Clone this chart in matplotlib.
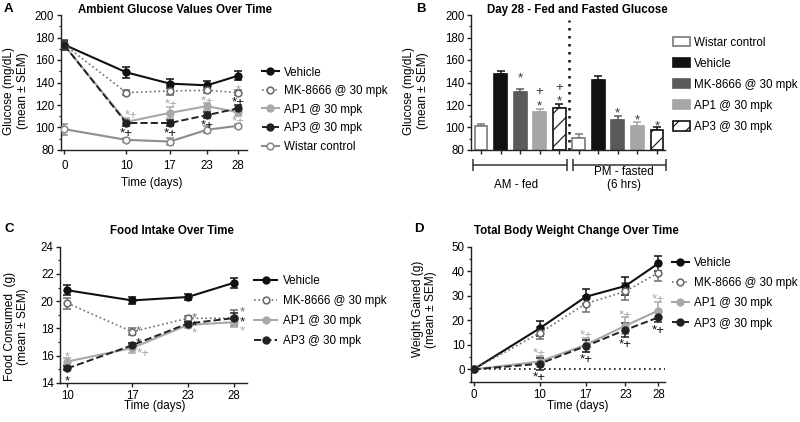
import numpy as np
import matplotlib
matplotlib.use('Agg')
import matplotlib.pyplot as plt
from matplotlib.ticker import MultipleLocator

plt.rcParams['font.family'] = ['Liberation Sans', 'DejaVu Sans']
plt.rcParams['hatch.linewidth'] = 0.8

# ---------------- data ----------------
groups = ['Vehicle', 'MK-8666 @ 30 mpk', 'AP1 @ 30 mpk', 'AP3 @ 30 mpk', 'Wistar control']

# A: ambient glucose
days_a = [0, 10, 17, 23, 28]
veh_a = [173.5, 149, 139, 137.5, 146]
veh_a_err = [4, 5, 4, 4, 4]
mk_a = [173.5, 131, 132.5, 133, 131]
mk_a_err = [4, 2.5, 4, 2, 2.5]
ap1_a = [173, 105, 113, 119, 113.5]
ap1_a_err = [4, 3, 5, 3, 3]
ap3_a = [173, 104, 104, 111, 117]
ap3_a_err = [4, 3, 3, 2.5, 3]
wis_a = [98.5, 89, 87.5, 98, 101.5]
wis_a_err = [5, 1.5, 3, 3, 2]

# B: day 28 fed / fasted glucose (order: Wistar, Vehicle, MK, AP1, AP3)
bar_labels = ['Wistar control', 'Vehicle', 'MK-8666 @ 30 mpk', 'AP1 @ 30 mpk', 'AP3 @ 30 mpk']
am_fed = [101.3, 147.3, 131.3, 113.8, 117.2]
am_fed_err = [1.8, 3.3, 2.7, 2.8, 3.4]
pm_fasted = [90.4, 142.2, 106.7, 101.2, 98.0]
pm_fasted_err = [3.9, 3.8, 3.3, 3.5, 2.6]

# C: food intake
days_c = [10, 17, 23, 28]
veh_c = [20.8, 20.05, 20.3, 21.35]
veh_c_err = [0.35, 0.25, 0.2, 0.35]
mk_c = [19.85, 17.75, 18.73, 18.75]
mk_c_err = [0.4, 0.25, 0.2, 0.6]
ap1_c = [15.55, 16.55, 18.25, 18.45]
ap1_c_err = [0.25, 0.35, 0.2, 0.35]
ap3_c = [15.05, 16.75, 18.35, 18.75]
ap3_c_err = [0.15, 0.2, 0.15, 0.35]

# D: body weight change
days_d = [0, 10, 17, 23, 28]
veh_d = [0, 16.7, 29.6, 34, 43.2]
veh_d_err = [0.3, 3, 3, 3.6, 3.2]
mk_d = [0, 14.8, 26.8, 31.8, 39.4]
mk_d_err = [0.3, 2.5, 3.3, 3.5, 3.5]
ap1_d = [0, 3.2, 10, 17.8, 24]
ap1_d_err = [0.3, 2.3, 3, 3.5, 3.3]
ap3_d = [0, 2.3, 9.5, 16.1, 21.2]
ap3_d_err = [0.3, 2.5, 2.5, 3, 2]

BLK = '#111111'
MKG = '#6e6e6e'
LGT = '#a8a8a8'
WIS = '#8c8c8c'

# significance marks: (x, y, text, color)
ann_a = [(10.7, 112.6, '*+', LGT), (10, 97.2, '*+', BLK), (17.3, 122.9, '*+', LGT),
         (17, 97.2, '*+', BLK), (23, 125, '*+', LGT), (23, 103.7, '*+', BLK),
         (28, 136.9, '*', LGT), (28, 124.4, '*+', BLK), (28, 107.3, '*+', LGT)]
ann_b = [(2, 147.6, '*'), (3, 133.3, '+'), (3, 123, '*'), (4, 136.9, '+'),
         (4, 126.8, '*'), (7, 116.1, '*'), (8, 110.2, '*'), (9, 105.2, '*')]
ann_c = [(10, 16.16, '*', LGT), (10, 14.44, '*', BLK), (17.65, 18.07, '*', MKG),
         (17.7, 17.19, '*', BLK), (18.15, 16.35, '*+', LGT), (23.7, 19.05, '*', MKG),
         (23.7, 18.46, '*', BLK), (23.7, 17.93, '*', LGT), (28.9, 19.47, '*', MKG),
         (28.9, 18.78, '*', BLK), (28.9, 18.07, '*', LGT)]
ann_d = [(10, 7.5, '*+', LGT), (17, 14.7, '*+', LGT), (23, 23.1, '*+', LGT), (28, 29.4, '*+', LGT),
         (10, -2.3, '*+', BLK), (17, 5.1, '*+', BLK), (23, 11.3, '*+', BLK), (28, 16.7, '*+', BLK)]

styles = {
    'Vehicle': dict(color=BLK, ls='-', lw=1.5, mfc=BLK),
    'MK-8666 @ 30 mpk': dict(color=MKG, ls=':', lw=1.2, mfc='white'),
    'AP1 @ 30 mpk': dict(color=LGT, ls='-', lw=1.5, mfc=LGT),
    'AP3 @ 30 mpk': dict(color='#222222', ls='--', lw=1.4, mfc='#222222'),
    'Wistar control': dict(color=WIS, ls='-', lw=1.5, mfc='white'),
}

W, H = 800, 422
fig = plt.figure(figsize=(8, 4.22), dpi=100)


def fx(px):
    return px / W


def fy(py):
    return 1 - py / H


def add_axes(left, right, top, bottom):
    return fig.add_axes([fx(left), fy(bottom), fx(right - left), (bottom - top) / H])


def style_axes(ax, xpad=4):
    for s in ['top', 'right']:
        ax.spines[s].set_visible(False)
    for s in ['left', 'bottom']:
        ax.spines[s].set_linewidth(1.0)
        ax.spines[s].set_color('#222222')
    ax.tick_params(which='major', direction='out', length=3, width=1, color='#222222',
                   labelsize=8.3, pad=1.5)
    ax.tick_params(axis='x', which='major', pad=xpad)
    ax.tick_params(which='minor', direction='out', length=1.8, width=0.9, color='#222222')


def draw_series(ax, x, y, err, name):
    st = styles[name]
    ax.errorbar(x, y, yerr=err, fmt='none', ecolor=st['color'], elinewidth=1.1,
                capsize=2.8, capthick=1.1, zorder=2)
    ax.plot(x, y, ls=st['ls'], lw=st['lw'], color=st['color'], marker='o', ms=4.8,
            mfc=st['mfc'], mec=st['color'], mew=1.2, label=name, zorder=3)


def mark(ax, x, y, txt, color):
    dy = {'*': -5.4, '+': -3.4, '*+': -4.3}[txt]
    ax.annotate(txt, (x, y), xytext=(0, dy), textcoords='offset points',
                ha='center', va='baseline', fontsize=9.6, color=color, zorder=5)


def line_legend(ax, left_px, top_px, hl, spacing):
    ax.legend(loc='upper left', bbox_to_anchor=(fx(left_px), fy(top_px)),
              bbox_transform=fig.transFigure, frameon=False, borderpad=0,
              borderaxespad=0, handlelength=hl, handletextpad=0.45,
              labelspacing=spacing, fontsize=8.4, numpoints=1)


# ---------------- A ----------------
axA = add_axes(60.5, 246.7, 15, 150)
style_axes(axA)
for name, y, e in zip(groups, [veh_a, mk_a, ap1_a, ap3_a, wis_a],
                      [veh_a_err, mk_a_err, ap1_a_err, ap3_a_err, wis_a_err]):
    draw_series(axA, days_a, y, e, name)
for x, y, t, c in ann_a:
    mark(axA, x, y, t, c)
axA.set_xlim(-0.63, 29.4)
axA.set_ylim(80, 200)
axA.set_xticks(days_a)
axA.yaxis.set_major_locator(MultipleLocator(20))
axA.yaxis.set_minor_locator(MultipleLocator(10))
line_legend(axA, 261.7, 66.5, 1.5, 0.56)

# ---------------- B ----------------
axB = add_axes(471, 665, 15, 150)
style_axes(axB)
xb = np.arange(len(am_fed) + len(pm_fasted))
vals_b = am_fed + pm_fasted
errs_b = am_fed_err + pm_fasted_err
bar_face = ['white', BLK, '#5a5a5a', '#a6a6a6', 'white']
bar_edge = ['#7a7a7a', BLK, '#5a5a5a', '#a6a6a6', BLK]
bar_hatch = [None, None, None, None, '//']
n = len(am_fed)
for i in range(n):
    idx = [i, i + n]
    axB.bar(xb[idx], [vals_b[j] - 80 for j in idx], bottom=80, width=0.66,
            color=bar_face[i], edgecolor=bar_edge[i], linewidth=1.2,
            hatch=bar_hatch[i], label=bar_labels[i], zorder=2)
    axB.errorbar(xb[idx], [vals_b[j] for j in idx],
                 yerr=[[0, 0], [errs_b[j] for j in idx]], fmt='none',
                 ecolor=bar_edge[i], elinewidth=1.1, capsize=2.8, capthick=1.1, zorder=1)
for x, y, t in ann_b:
    mark(axB, x, y, t, '#333333')
axB.axvline(n - 0.5, ymax=0.965, ls=(0, (1, 2.2)), lw=1.8, color=BLK, zorder=1)
axB.set_xlim(-0.51, 9.41)
axB.set_ylim(80, 200)
axB.set_xticks(xb)
axB.set_xticklabels([])
axB.tick_params(axis='x', length=3)
axB.yaxis.set_major_locator(MultipleLocator(20))
axB.yaxis.set_minor_locator(MultipleLocator(10))
tr = axB.get_xaxis_transform()
for x0, x1 in [(-0.42, n - 0.62), (n - 0.28, 2 * n - 0.56)]:
    axB.plot([x0, x1], [-0.111, -0.111], color='#444444', lw=1.2, transform=tr, clip_on=False)
    axB.plot([x0, x1], [-0.111, -0.111], ls='none', marker='|', ms=9, mew=1.2,
             color='#444444', transform=tr, clip_on=False)
axB.legend(loc='upper left', bbox_to_anchor=(fx(673.3), fy(36.5)),
           bbox_transform=fig.transFigure, frameon=False, borderpad=0,
           borderaxespad=0, handlelength=1.43, handleheight=0.85, handletextpad=0.34,
           labelspacing=0.78, fontsize=8.4)

# ---------------- C ----------------
axC = add_axes(60, 246.7, 246.7, 382.7)
style_axes(axC, xpad=2.2)
for name, y, e in zip(groups[:4], [veh_c, mk_c, ap1_c, ap3_c],
                      [veh_c_err, mk_c_err, ap1_c_err, ap3_c_err]):
    draw_series(axC, days_c, y, e, name)
for x, y, t, c in ann_c:
    mark(axC, x, y, t, c)
axC.set_xlim(9.22, 29.36)
axC.set_ylim(14, 24)
axC.set_xticks(days_c)
axC.yaxis.set_major_locator(MultipleLocator(2))
axC.yaxis.set_minor_locator(MultipleLocator(1))
line_legend(axC, 254, 275.5, 2.0, 0.68)

# ---------------- D ----------------
axD = add_axes(471, 665, 246.7, 381.7)
style_axes(axD, xpad=2.2)
axD.axhline(0, xmin=0.38 / 29.38, ls=(0, (1, 2)), lw=1.2, color=BLK, zorder=1)
for name, y, e in zip(groups[:4], [veh_d, mk_d, ap1_d, ap3_d],
                      [veh_d_err, mk_d_err, ap1_d_err, ap3_d_err]):
    draw_series(axD, days_d, y, e, name)
for x, y, t, c in ann_d:
    mark(axD, x, y, t, c)
axD.set_xlim(-0.38, 29.0)
axD.set_ylim(-5, 50)
axD.set_xticks(days_d)
axD.set_yticks([0, 10, 20, 30, 40, 50])
axD.yaxis.set_minor_locator(MultipleLocator(5))
line_legend(axD, 671.7, 257, 1.5, 0.7)

# ---------------- text ----------------
for t, x, y in [('A', 8.3, 11.7), ('B', 420.7, 11.7), ('C', 9.2, 231.7), ('D', 419.2, 231.7)]:
    fig.text(fx(x), fy(y), t, fontsize=9.5, fontweight='bold', ha='center', va='baseline')

for t, x, y in [('Ambient Glucose Values Over Time', 175.3, 13.3),
                ('Day 28 - Fed and Fasted Glucose', 577.8, 13.3),
                ('Food Intake Over Time', 172.3, 234),
                ('Total Body Weight Change Over Time', 576.3, 234)]:
    fig.text(fx(x), fy(y), t, fontsize=8.3, fontweight='bold', ha='center', va='baseline')

for t, x, y in [('Time (days)', 151.7, 186), ('Time (days)', 154.2, 408.5),
                ('Time (days)', 578, 408.5), ('AM - fed', 516.3, 188.3),
                ('PM - fasted\n(6 hrs)', 623.7, 188.3)]:
    fig.text(fx(x), fy(y), t, fontsize=8.4, ha='center', va='baseline',
             multialignment='center', linespacing=1.1)

for t, x, y in [('Glucose (mg/dL)\n(mean ± SEM)', 16, 91),
                ('Glucose (mg/dL)\n(mean ± SEM)', 416, 91),
                ('Food Consumed  (g)\n(mean ± SEM)', 16.7, 326.7),
                ('Weight Gained (g)\n(mean ± SEM)', 424.5, 309.2)]:
    fig.text(fx(x), fy(y), t, fontsize=8.6, ha='center', va='center', rotation=90,
             multialignment='center', linespacing=1.15)

fig.savefig('out.png', dpi=100)
